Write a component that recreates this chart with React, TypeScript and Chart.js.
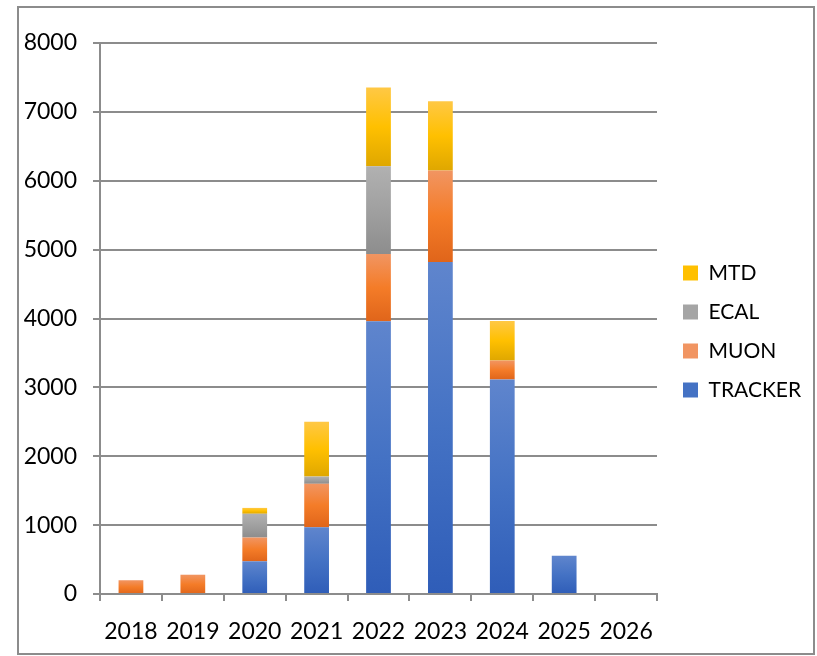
import React, { useEffect, useRef } from 'react';
import { Chart, registerables } from 'chart.js';

Chart.register(...registerables);

const years = ['2018', '2019', '2020', '2021', '2022', '2023', '2024', '2025', '2026'];
const tracker = [0, 0, 475, 970, 3960, 4820, 3115, 555, 0];
const muon = [200, 280, 345, 630, 975, 1330, 275, 0, 0];
const ecal = [0, 0, 345, 105, 1275, 0, 0, 0, 0];
const mtd = [0, 0, 85, 795, 1145, 1005, 575, 0, 0];
const yMin = 0;
const yMax = 8000;
const yStep = 1000;

const FONT = 'Lato, "Liberation Sans", sans-serif';
const GRID = '#8c8c8c';
const LEGEND_PAD = 18;

function gradientFill(stops: string[], solid: string) {
  return (ctx: any) => {
    if (ctx.type !== 'data') return solid;
    const chart = ctx.chart;
    const y = chart.scales && chart.scales.y;
    if (!y || !chart.chartArea) return solid;
    const i = ctx.dataIndex;
    const di = ctx.datasetIndex;
    let base = 0;
    for (let k = 0; k < di; k++) base += Number(chart.data.datasets[k].data[i]) || 0;
    const v = Number(chart.data.datasets[di].data[i]) || 0;
    const yTop = y.getPixelForValue(base + v);
    const yBot = y.getPixelForValue(base);
    if (!isFinite(yTop) || !isFinite(yBot) || Math.abs(yTop - yBot) < 0.5) return solid;
    const g = chart.ctx.createLinearGradient(0, yTop, 0, yBot);
    stops.forEach((c, idx) => g.addColorStop(idx / (stops.length - 1), c));
    return g;
  };
}

const framePlugin = {
  id: 'frame',
  beforeLayout(chart: any) {
    const L = chart.legend;
    if (L && !L.__patched) {
      const orig = L.fit.bind(L);
      L.fit = function () {
        orig();
        this.width = 160;
      };
      L.__patched = true;
    }
  },
  afterLayout(chart: any) {
    const L = chart.legend;
    if (!L) return;
    const dx = 683 - (L.left + LEGEND_PAD);
    L.left += dx;
    L.right += dx;
    L.top -= 18;
    L.bottom -= 18;
  },
  beforeDraw(chart: any) {
    const c = chart.ctx;
    c.save();
    c.fillStyle = '#ffffff';
    c.fillRect(0, 0, chart.width, chart.height);
    c.strokeStyle = '#8c8c8c';
    c.lineWidth = 2;
    c.strokeRect(18, 7, 796, 647);
    c.restore();
  },
};

export default function App() {
  const ref = useRef<HTMLCanvasElement | null>(null);

  useEffect(() => {
    if (!ref.current) return;
    const chart = new Chart(ref.current, {
      type: 'bar',
      data: {
        labels: years,
        datasets: [
          {
            label: 'TRACKER',
            data: tracker,
            backgroundColor: gradientFill(['#5F85CD', '#4472C4', '#2F5DB8'], '#4472C4'),
          },
          {
            label: 'MUON',
            data: muon,
            backgroundColor: gradientFill(['#F19562', '#F47C28', '#E0651A'], '#ED7D31'),
          },
          {
            label: 'ECAL',
            data: ecal,
            backgroundColor: gradientFill(['#B1B1B1', '#A0A0A0', '#8D8D8D'], '#A5A5A5'),
          },
          {
            label: 'MTD',
            data: mtd,
            backgroundColor: gradientFill(['#FFC845', '#FFC000', '#DFA700'], '#FFC000'),
          },
        ],
      },
      options: {
        responsive: false,
        animation: false,
        layout: { padding: { top: 43, right: 0, bottom: 0, left: 0 } },
        datasets: {
          bar: { barPercentage: 0.4, categoryPercentage: 1, borderWidth: 0 },
        },
        plugins: {
          tooltip: { enabled: false },
          legend: {
            position: 'right',
            align: 'center',
            reverse: true,
            labels: {
              boxWidth: 15,
              boxHeight: 15,
              padding: LEGEND_PAD,
              color: '#000',
              font: { family: FONT, size: 21 },
            },
          },
        },
        scales: {
          x: {
            stacked: true,
            grid: {
              drawOnChartArea: false,
              drawTicks: true,
              tickLength: 7,
              offset: true,
              color: GRID,
              lineWidth: 2,
            },
            border: { display: true, color: GRID, width: 2 },
            ticks: { color: '#000', font: { family: FONT, size: 23 }, padding: 17, maxRotation: 0 },
            afterFit: (s: any) => {
              s.height = 62;
            },
          },
          y: {
            stacked: true,
            min: yMin,
            max: yMax,
            grid: { color: GRID, lineWidth: 2, tickLength: 7, drawTicks: true },
            border: { display: true, color: GRID, width: 2 },
            ticks: {
              stepSize: yStep,
              color: '#000',
              font: { family: FONT, size: 23 },
              padding: 16,
              callback: (v: any) => String(v),
            },
            afterFit: (s: any) => {
              s.width = 100;
            },
          },
        },
      },
      plugins: [framePlugin],
    });
    return () => chart.destroy();
  }, []);

  return (
    <div style={{ position: 'fixed', left: 0, top: 0, width: 817, height: 656 }}>
      <canvas ref={ref} width={817} height={656} style={{ display: 'block', width: 817, height: 656 }} />
    </div>
  );
}
